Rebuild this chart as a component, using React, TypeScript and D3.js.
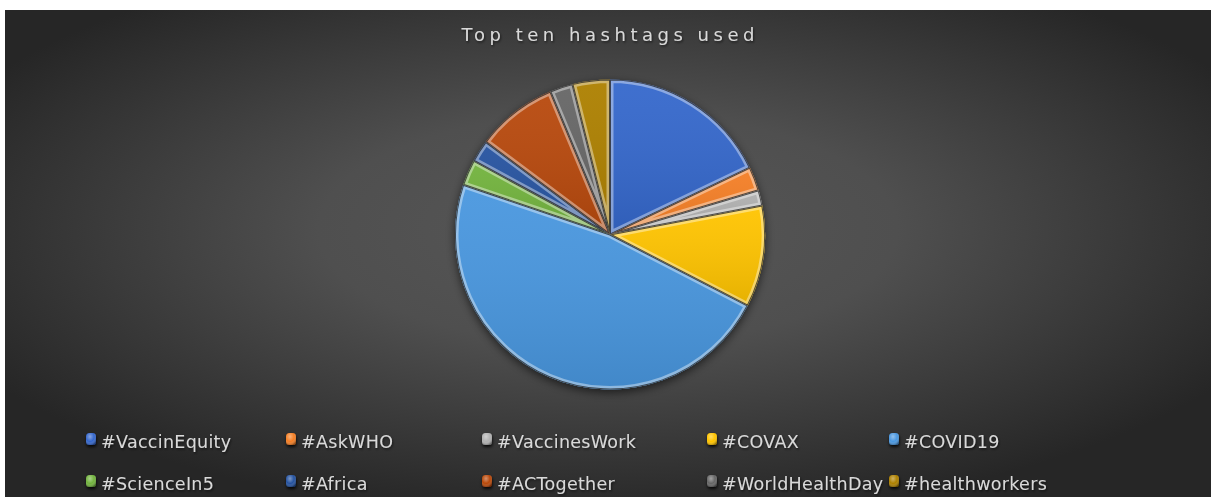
import React from "react";
import * as d3 from "d3";

const categories = ["#VaccinEquity", "#AskWHO", "#VaccinesWork", "#COVAX", "#COVID19", "#ScienceIn5", "#Africa", "#ACTogether", "#WorldHealthDay", "#healthworkers"];
const values = [179, 25, 16, 106, 476, 27, 23, 85, 24, 39];
const colors = ["#3567cc", "#f57f25", "#b0b0b0", "#ffc400", "#4a97df", "#72b33e", "#2553a0", "#b8480a", "#666666", "#ad8000"];
const title = "Top ten hashtags used";

const W = 1206;
const H = 487;
const CX = 605;
const CY = 224.5;
const R = 155;
const legendTextX = [96, 296, 492, 717, 899];
const legendRowY = [438, 480];

export default function App() {
  const pie = d3.pie<number>().sort(null).value((d) => d)(values);
  const arc = d3.arc<d3.PieArcDatum<number>>().innerRadius(0).outerRadius(R);
  const font = "'DejaVu Sans', sans-serif";
  return (
    <svg width={W} height={H} style={{ position: "absolute", left: 5, top: 10, display: "block" }}>
      <defs>
        <radialGradient id="bg" cx="0.5" cy="0.45" r="0.6">
          <stop offset="0" stopColor="#575757" />
          <stop offset="0.4" stopColor="#4f4f4f" />
          <stop offset="1" stopColor="#262626" />
        </radialGradient>
        <linearGradient id="bevel" gradientUnits="userSpaceOnUse" x1={CX - R * 0.4} y1={CY - R} x2={CX + R * 0.4} y2={CY + R}>
          <stop offset="0" stopColor="#ffffff" stopOpacity="0.4" />
          <stop offset="0.45" stopColor="#ffffff" stopOpacity="0.12" />
          <stop offset="0.6" stopColor="#000000" stopOpacity="0.1" />
          <stop offset="1" stopColor="#000000" stopOpacity="0.45" />
        </linearGradient>
        <linearGradient id="shade" x1="0" y1="0" x2="0" y2="1">
          <stop offset="0" stopColor="#ffffff" stopOpacity="0.05" />
          <stop offset="1" stopColor="#000000" stopOpacity="0.1" />
        </linearGradient>
        <filter id="pieShadow" x="-20%" y="-20%" width="140%" height="140%">
          <feDropShadow dx="0" dy="3" stdDeviation="5" floodColor="#000" floodOpacity="0.6" />
        </filter>
        <filter id="textShadow" x="-10%" y="-30%" width="120%" height="160%">
          <feDropShadow dx="1" dy="1.5" stdDeviation="1" floodColor="#000" floodOpacity="0.55" />
        </filter>
        <filter id="markShadow" x="-60%" y="-60%" width="220%" height="220%">
          <feDropShadow dx="0.5" dy="2" stdDeviation="1.5" floodColor="#000" floodOpacity="0.85" />
        </filter>
        <radialGradient id="markHi" cx="0.4" cy="0.3" r="0.75">
          <stop offset="0" stopColor="#fff" stopOpacity="0.4" />
          <stop offset="0.55" stopColor="#fff" stopOpacity="0" />
          <stop offset="1" stopColor="#000" stopOpacity="0.4" />
        </radialGradient>
        {pie.map((p, i) => (
          <clipPath id={`clip${i}`} key={i}>
            <path d={arc(p) || ""} transform={`translate(${CX},${CY})`} />
          </clipPath>
        ))}
      </defs>
      <rect x={0} y={0} width={W} height={H} fill="url(#bg)" />
      <text
        x={W / 2}
        y={31}
        textAnchor="middle"
        fontFamily={font}
        fontSize={18}
        fill="#d9d9d9"
        textLength={293}
        lengthAdjust="spacing"
        filter="url(#textShadow)"
      >
        {title}
      </text>
      <g filter="url(#pieShadow)">
        {pie.map((p, i) => (
          <path key={i} d={arc(p) || ""} transform={`translate(${CX},${CY})`} fill={colors[i]} />
        ))}
      </g>
      {pie.map((p, i) => (
        <g key={i} clipPath={`url(#clip${i})`}>
          <path d={arc(p) || ""} transform={`translate(${CX},${CY})`} fill="url(#shade)" />
          <path
            d={arc(p) || ""}
            transform={`translate(${CX},${CY})`}
            fill="none"
            stroke="url(#bevel)"
            strokeWidth={7}
            strokeLinejoin="round"
          />
          <path
            d={arc(p) || ""}
            transform={`translate(${CX},${CY})`}
            fill="none"
            stroke="#202020"
            strokeOpacity={0.75}
            strokeWidth={2}
          />
        </g>
      ))}
      {categories.map((c, i) => {
        const col = i % 5;
        const row = Math.floor(i / 5);
        const tx = legendTextX[col];
        const ty = legendRowY[row];
        return (
          <g key={c}>
            <g filter="url(#markShadow)">
              <rect x={tx - 15} y={ty - 15} width={10} height={12} rx={3.5} fill={colors[i]} />
              <rect x={tx - 15} y={ty - 15} width={10} height={12} rx={3.5} fill="url(#markHi)" />
            </g>
            <text
              x={tx}
              y={ty}
              fontFamily={font}
              fontSize={17.5}
              letterSpacing={0.3}
              fill="#d9d9d9"
              filter="url(#textShadow)"
            >
              {c}
            </text>
          </g>
        );
      })}
    </svg>
  );
}
